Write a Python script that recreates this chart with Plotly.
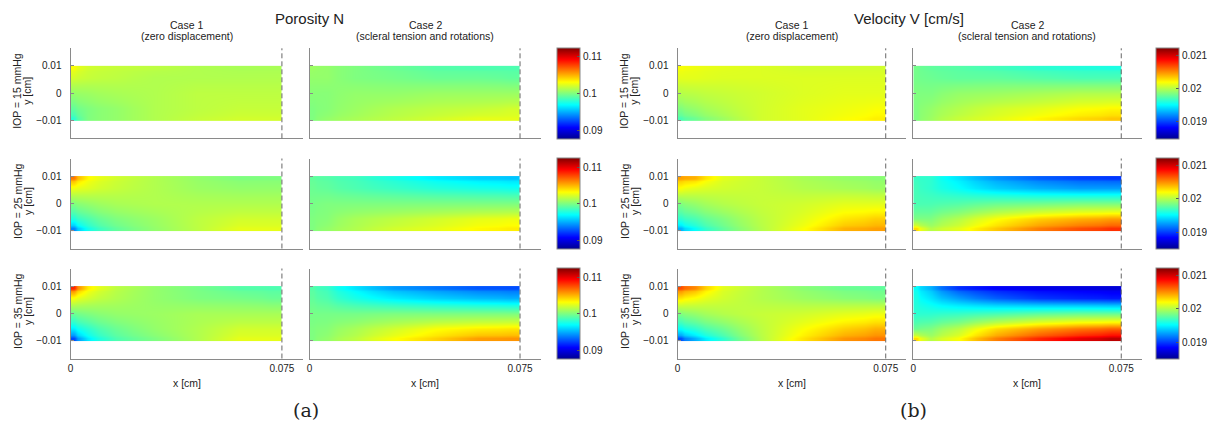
import plotly.graph_objects as go

# ---------------- data ----------------
X_CM = [0, 0.005, 0.015, 0.03, 0.045, 0.06, 0.075]
Y_CM = [-0.01, -0.006, 0, 0.006, 0.01]

# Porosity N, rows = Y_CM (bottom -> top), cols = X_CM
POR_15_CASE1 = [
    [0.0981, 0.1001, 0.1006, 0.1013, 0.1018, 0.1021, 0.1021],
    [0.0994, 0.1001, 0.1006, 0.1013, 0.1016, 0.1018, 0.1018],
    [0.1006, 0.1008, 0.1011, 0.1013, 0.1016, 0.1016, 0.1016],
    [0.1021, 0.1018, 0.1016, 0.1013, 0.1013, 0.1013, 0.1013],
    [0.1031, 0.1021, 0.1018, 0.1016, 0.1013, 0.1011, 0.1011],
]
POR_15_CASE2 = [
    [0.1001, 0.1006, 0.1011, 0.1016, 0.1021, 0.1026, 0.1026],
    [0.1001, 0.1003, 0.1008, 0.1013, 0.1016, 0.1018, 0.1021],
    [0.1003, 0.1003, 0.1006, 0.1006, 0.1008, 0.1008, 0.1008],
    [0.1006, 0.1006, 0.1001, 0.0999, 0.0996, 0.0996, 0.0994],
    [0.1008, 0.1006, 0.1001, 0.0996, 0.0991, 0.0989, 0.0989],
]
POR_25_CASE1 = [
    [0.0940, 0.0975, 0.0994, 0.1006, 0.1016, 0.1026, 0.1026],
    [0.0978, 0.0989, 0.1001, 0.1008, 0.1016, 0.1021, 0.1021],
    [0.1001, 0.1006, 0.1011, 0.1013, 0.1013, 0.1013, 0.1013],
    [0.1028, 0.1024, 0.1018, 0.1013, 0.1008, 0.1006, 0.1006],
    [0.1065, 0.1033, 0.1021, 0.1013, 0.1006, 0.1001, 0.1001],
]
POR_25_CASE2 = [
    [0.1001, 0.1006, 0.1013, 0.1021, 0.1026, 0.1033, 0.1036],
    [0.1001, 0.1003, 0.1011, 0.1016, 0.1021, 0.1026, 0.1028],
    [0.0999, 0.1001, 0.1001, 0.1001, 0.1001, 0.1001, 0.1001],
    [0.0996, 0.0994, 0.0989, 0.0984, 0.0979, 0.0976, 0.0974],
    [0.0994, 0.0991, 0.0986, 0.0976, 0.0966, 0.0959, 0.0956],
]
POR_35_CASE1 = [
    [0.0925, 0.0966, 0.0989, 0.1001, 0.1013, 0.1026, 0.1026],
    [0.0966, 0.0981, 0.0996, 0.1006, 0.1013, 0.1021, 0.1021],
    [0.0996, 0.1001, 0.1006, 0.1008, 0.1011, 0.1011, 0.1011],
    [0.1030, 0.1021, 0.1013, 0.1006, 0.1001, 0.0999, 0.0996],
    [0.1085, 0.1036, 0.1016, 0.1006, 0.0999, 0.0991, 0.0989],
]
POR_35_CASE2 = [
    [0.1001, 0.1006, 0.1016, 0.1031, 0.1043, 0.1056, 0.1058],
    [0.1001, 0.1003, 0.1011, 0.1021, 0.1031, 0.1036, 0.1038],
    [0.0999, 0.0999, 0.0999, 0.1001, 0.1001, 0.1001, 0.1001],
    [0.0994, 0.0989, 0.0976, 0.0966, 0.0959, 0.0954, 0.0951],
    [0.0991, 0.0984, 0.0964, 0.0946, 0.0937, 0.0929, 0.0927],
]

# Velocity V [cm/s]
VEL_15_CASE1 = [
    [0.01972, 0.01981, 0.01994, 0.02008, 0.02013, 0.02019, 0.02024],
    [0.01986, 0.01992, 0.02000, 0.02008, 0.02013, 0.02016, 0.02019],
    [0.02000, 0.02002, 0.02005, 0.02008, 0.02011, 0.02013, 0.02013],
    [0.02013, 0.02013, 0.02011, 0.02011, 0.02011, 0.02011, 0.02011],
    [0.02019, 0.02016, 0.02013, 0.02011, 0.02008, 0.02008, 0.02008],
]
VEL_15_CASE2 = [
    [0.01986, 0.01994, 0.02005, 0.02013, 0.02022, 0.02030, 0.02035],
    [0.01986, 0.01992, 0.02000, 0.02008, 0.02013, 0.02019, 0.02022],
    [0.01986, 0.01986, 0.01992, 0.01994, 0.01997, 0.02000, 0.02000],
    [0.01983, 0.01981, 0.01978, 0.01978, 0.01975, 0.01972, 0.01972],
    [0.01983, 0.01978, 0.01975, 0.01970, 0.01964, 0.01961, 0.01959],
]
VEL_25_CASE1 = [
    [0.01931, 0.01953, 0.01978, 0.02000, 0.02019, 0.02041, 0.02046],
    [0.01964, 0.01972, 0.01986, 0.02002, 0.02013, 0.02027, 0.02033],
    [0.01986, 0.01992, 0.02000, 0.02005, 0.02008, 0.02013, 0.02013],
    [0.02019, 0.02013, 0.02008, 0.02005, 0.02000, 0.01997, 0.01994],
    [0.02046, 0.02041, 0.02013, 0.02005, 0.01997, 0.01992, 0.01989],
]
VEL_25_CASE2 = [
    [0.02030, 0.02000, 0.02013, 0.02035, 0.02055, 0.02068, 0.02076],
    [0.01986, 0.01986, 0.02000, 0.02019, 0.02033, 0.02041, 0.02046],
    [0.01972, 0.01972, 0.01975, 0.01981, 0.01983, 0.01986, 0.01986],
    [0.01970, 0.01964, 0.01953, 0.01939, 0.01931, 0.01926, 0.01926],
    [0.01967, 0.01964, 0.01945, 0.01923, 0.01909, 0.01901, 0.01898],
]
VEL_35_CASE1 = [
    [0.01904, 0.01931, 0.01964, 0.02000, 0.02027, 0.02049, 0.02057],
    [0.01953, 0.01964, 0.01981, 0.02002, 0.02019, 0.02033, 0.02041],
    [0.01986, 0.01992, 0.02000, 0.02005, 0.02008, 0.02013, 0.02016],
    [0.02027, 0.02019, 0.02008, 0.02000, 0.01994, 0.01989, 0.01986],
    [0.02068, 0.02052, 0.02013, 0.02000, 0.01989, 0.01981, 0.01978],
]
VEL_35_CASE2 = [
    [0.02030, 0.02000, 0.02019, 0.02055, 0.02079, 0.02096, 0.02107],
    [0.01981, 0.01986, 0.02002, 0.02030, 0.02046, 0.02057, 0.02063],
    [0.01964, 0.01964, 0.01967, 0.01972, 0.01978, 0.01981, 0.01981],
    [0.01959, 0.01945, 0.01926, 0.01909, 0.01898, 0.01893, 0.01890],
    [0.01953, 0.01931, 0.01896, 0.01882, 0.01876, 0.01874, 0.01871],
]

FIELDS = [
    [[POR_15_CASE1, POR_15_CASE2], [POR_25_CASE1, POR_25_CASE2], [POR_35_CASE1, POR_35_CASE2]],
    [[VEL_15_CASE1, VEL_15_CASE2], [VEL_25_CASE1, VEL_25_CASE2], [VEL_35_CASE1, VEL_35_CASE2]],
]
QUANTITY_TITLES = ["Porosity N", "Velocity V [cm/s]"]
PANEL_LABELS = ["(a)", "(b)"]
IOP_LABELS = ["IOP = 15 mmHg", "IOP = 25 mmHg", "IOP = 35 mmHg"]
CASE_TITLES = [("Case 1", "(zero displacement)"), ("Case 2", "(scleral tension and rotations)")]
CBAR_RANGES = [[0.0877, 0.1125], [0.01849, 0.02123]]
CBAR_TICKS = [[0.09, 0.1, 0.11], [0.019, 0.02, 0.021]]
CBAR_TICKTEXT = [["0.09", "0.1", "0.11"], ["0.019", "0.02", "0.021"]]
X_TICKS = [0, 0.075]
X_TICKTEXT = ["0", "0.075"]
Y_TICKS = [-0.01, 0, 0.01]
Y_TICKTEXT = ["\u22120.01", "0", "0.01"]

# ---------------- layout geometry (page pixels) ----------------
PAGE_W, PAGE_H = 1215, 429
OFF = 8  # default body margin of the html page
W, H = PAGE_W - OFF, PAGE_H - 2 * OFF
COLS_PX = [[(70.5, 302.5), (309.6, 540.5)], [(677.5, 906.0), (913.3, 1141.5)]]
ROWS_PX = [(48.3, 138.3), (158.5, 248.5), (268.5, 358.5)]
CBAR_LEFT_PX = [557, 1156]
CBAR_W = 23
X_RANGE = [0, 0.0823]
Y_RANGE = [-0.0164, 0.0164]
FONT = "Liberation Sans, Arial, Helvetica, sans-serif"
AXIS_GREY = "#8a8a8a"
TXT = "#222222"

JET = [
    [0.0, "rgb(0,0,143)"],
    [0.125, "rgb(0,0,255)"],
    [0.375, "rgb(0,255,255)"],
    [0.625, "rgb(255,255,0)"],
    [0.875, "rgb(255,0,0)"],
    [1.0, "rgb(128,0,0)"],
]


def px_x(p):
    return (p - OFF) / W


def px_y(p):
    return 1 - (p - OFF) / H


def edges(c):
    mids = [(a + b) / 2 for a, b in zip(c[:-1], c[1:])]
    return [c[0]] + mids + [c[-1]]


def note(text, x, y, size, angle=0, family=FONT):
    return dict(text=text, x=px_x(x), y=px_y(y), xref="paper", yref="paper",
                xanchor="center", yanchor="middle", showarrow=False, textangle=angle,
                font=dict(size=size, color=TXT, family=family))


XE = edges(X_CM)
YE = edges(Y_CM)

fig = go.Figure()
layout = dict(
    width=W, height=H, margin=dict(l=0, r=0, t=0, b=0, pad=0, autoexpand=False),
    paper_bgcolor="white", plot_bgcolor="white",
    font=dict(family=FONT, size=10, color=TXT),
    showlegend=False,
)
shapes = []
annotations = []

for s in range(2):
    for r in range(3):
        ca = s * 3 + r + 1
        ca_name = "coloraxis" if ca == 1 else f"coloraxis{ca}"
        y0p, y1p = ROWS_PX[r]
        layout[ca_name] = dict(
            colorscale=JET, cmin=CBAR_RANGES[s][0], cmax=CBAR_RANGES[s][1],
            colorbar=dict(
                x=px_x(CBAR_LEFT_PX[s]), xanchor="left", xpad=0, ypad=0,
                y=px_y(y1p + 0.5), yanchor="bottom", len=(y1p - y0p + 1) / H, lenmode="fraction",
                thickness=CBAR_W, thicknessmode="pixels",
                tickvals=CBAR_TICKS[s], ticktext=CBAR_TICKTEXT[s],
                ticks="inside", ticklen=3, tickcolor="#555555",
                outlinecolor="#888888", outlinewidth=1,
                tickfont=dict(size=10, color=TXT, family=FONT),
            ),
        )
        for c in range(2):
            k = s * 6 + r * 2 + c + 1
            xn = "xaxis" if k == 1 else f"xaxis{k}"
            yn = "yaxis" if k == 1 else f"yaxis{k}"
            xr = "x" if k == 1 else f"x{k}"
            yr = "y" if k == 1 else f"y{k}"
            x0p, x1p = COLS_PX[s][c]
            fig.add_trace(go.Heatmap(
                x=XE, y=YE, z=FIELDS[s][r][c], zsmooth="best",
                coloraxis=ca_name,
                xaxis=xr, yaxis=yr, hoverinfo="skip",
            ))
            layout[xn] = dict(
                domain=[px_x(x0p), px_x(x1p)], anchor=yr, range=X_RANGE,
                showline=True, linecolor=AXIS_GREY, linewidth=1,
                showgrid=False, zeroline=False, ticks="",
                tickvals=X_TICKS, ticktext=X_TICKTEXT,
                showticklabels=(r == 2), tickfont=dict(size=10, color=TXT),
                fixedrange=True,
            )
            layout[yn] = dict(
                domain=[px_y(y1p), px_y(y0p)], anchor=xr, range=Y_RANGE,
                showline=True, linecolor=AXIS_GREY, linewidth=1,
                showgrid=False, zeroline=False, ticks="inside", ticklen=3,
                tickcolor=AXIS_GREY,
                tickvals=Y_TICKS, ticktext=Y_TICKTEXT,
                showticklabels=(c == 0), tickfont=dict(size=10, color=TXT),
                ticklabelstandoff=6, fixedrange=True,
            )
            shapes.append(dict(
                type="line", xref=xr, yref=f"{yr} domain",
                x0=X_TICKS[1], x1=X_TICKS[1], y0=0, y1=1,
                line=dict(color="#666666", width=1, dash="5px,3px"), layer="above",
            ))
            cx = (x0p + x1p) / 2
            if r == 0:
                annotations.append(note(CASE_TITLES[c][0], cx, 25, 10.5))
                annotations.append(note(CASE_TITLES[c][1], cx, 36.5, 10.5))
            if r == 2:
                annotations.append(note("x [cm]", cx, 383, 10.5))
        ax0 = COLS_PX[s][0][0]
        cy = (y0p + y1p) / 2 - 2
        annotations.append(note(IOP_LABELS[r], ax0 - 53, cy, 10.5, -90))
        annotations.append(note("y [cm]", ax0 - 43, cy, 10.5, -90))
    annotations.append(note(QUANTITY_TITLES[s], [309, 909][s], 18, 15))
    annotations.append(note(PANEL_LABELS[s], [306, 913][s], 410, 19,
                            family="DejaVu Serif, Liberation Serif, serif"))

layout["shapes"] = shapes
layout["annotations"] = annotations
fig.update_layout(**layout)
fig.write_html("out.html", config={"displayModeBar": False})
